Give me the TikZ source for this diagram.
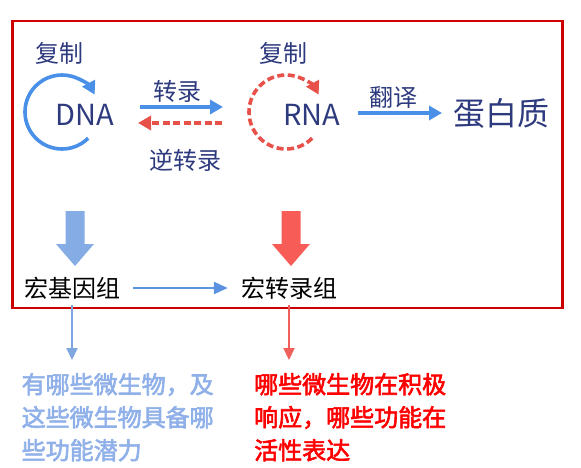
\documentclass[tikz,border=0pt]{standalone}
\usepackage{fontspec}
\usetikzlibrary{arrows.meta}
\newfontfamily\cjk{Noto Sans CJK SC}
\newfontfamily\cjkb[FakeBold=2.5]{Noto Sans CJK SC}
\definecolor{navy}{HTML}{2E3A7E}
\definecolor{arcblue}{HTML}{4A8FE8}
\definecolor{arcred}{HTML}{E8504A}
\definecolor{blkblue}{HTML}{86ACE6}
\definecolor{blkred}{HTML}{F85C57}
\definecolor{thinblue}{HTML}{7EA6E0}
\definecolor{midblue}{HTML}{5B93E0}
\definecolor{thinred}{HTML}{F0605A}
\definecolor{txtblue}{HTML}{8FB0E8}
\definecolor{boxred}{HTML}{CC0000}
\tikzset{
  lbl/.style={font=\cjk\fontsize{24}{28}\selectfont, text=navy, inner sep=0pt},
  mol/.style={font=\cjk\fontsize{29}{34}\selectfont, text=navy, inner sep=0pt},
  omic/.style={font=\cjk\fontsize{24}{28}\selectfont, text=black, inner sep=2pt},
  note/.style={font=\cjkb\fontsize{24}{33}\selectfont, align=left, inner sep=0pt, anchor=north west},
  flow/.style={line width=3.6pt, -{Triangle[length=13pt,width=14pt]}},
  thin/.style={line width=2.2pt, -{Triangle[length=12pt,width=11pt]}},
}
\begin{document}
\begin{tikzpicture}[x=1pt,y=1pt]
\useasboundingbox (0,0) rectangle (581,-468);
% frame
\draw[boxred, line width=2.6pt] (12.7,-21) rectangle (562.7,-308);
% molecules
\node[mol] (dna) at (85,-115) {DNA};
\node[mol] (rna) at (312,-115) {RNA};
\node[font=\cjk\fontsize{32}{36}\selectfont, text=navy, inner sep=0pt] (prot) at (501,-113) {蛋白质};
% replication arcs
\draw[arcblue, flow] (62,-112) ++(-45:37) arc[start angle=-45, end angle=-332, radius=37];
\node[lbl] (rep1) at (59,-53) {复制};
\draw[arcred, flow, dash pattern=on 7pt off 3.5pt] (286,-112) ++(-45:37) arc[start angle=-45, end angle=-332, radius=37];
\node[lbl] (rep2) at (283,-53) {复制};
% transcription
\coordinate (t1) at (140,-107);
\coordinate (t2) at (223,-107);
\draw[arcblue, flow] (t1) -- (t2);
\node[lbl] (tr) at (177,-91) {转录};
\coordinate (r1) at (222,-123);
\coordinate (r2) at (138,-123);
\draw[arcred, flow, dash pattern=on 7pt off 3.5pt] (r1) -- (r2);
\node[lbl] (rtr) at (185,-160) {逆转录};
% translation
\coordinate (l1) at (358,-113);
\coordinate (l2) at (442,-113);
\draw[arcblue, flow] (l1) -- (l2);
\node[lbl] (tl) at (393,-97) {翻译};
% block arrows
\fill[blkblue] (65.5,-211) -- (84.5,-211) -- (84.5,-244) -- (94,-244) -- (75,-266) -- (56,-244) -- (65.5,-244) -- cycle;
\fill[blkred] (281.5,-211) -- (300.5,-211) -- (300.5,-244) -- (310,-244) -- (291,-266) -- (272,-244) -- (281.5,-244) -- cycle;
% omics
\node[omic] (mg) at (72,-288) {宏基因组};
\node[omic] (mt) at (289,-288) {宏转录组};
\draw[midblue, line width=2.4pt, -{Triangle[length=14pt,width=12pt]}, shorten <=11pt, shorten >=11pt] (mg.east) -- (mt.west);
% notes
\node[note, text=txtblue] (q1) at (21.5,-373) {有哪些微生物，及\\这些微生物具备哪\\些功能潜力};
\node[note, text=red] (q2) at (254,-373) {哪些微生物在积极\\响应，哪些功能在\\活性表达};
\draw[thinblue, thin, shorten <=4pt, shorten >=13pt] (mg.south) -- (mg.south |- q1.north);
\draw[thinred, thin, shorten <=4pt, shorten >=13pt] (mt.south) -- (mt.south |- q2.north);
\end{tikzpicture}
\end{document}
